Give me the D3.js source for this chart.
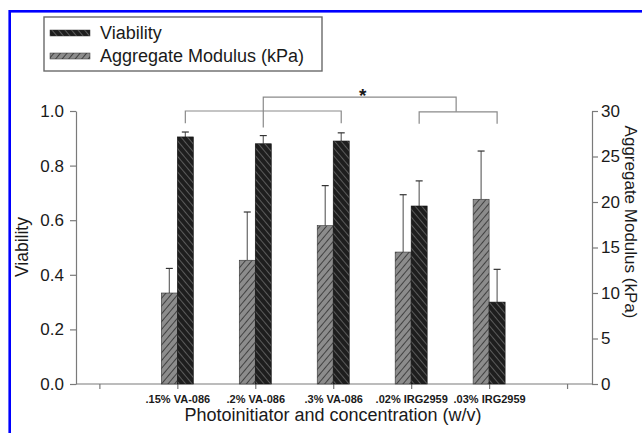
<!DOCTYPE html>
<html>
<head>
<meta charset="utf-8">
<script src="https://cdn.jsdelivr.net/npm/d3@7/dist/d3.min.js"></script>
<style>
  body { margin: 0; background: #fff; }
  text { font-family: "Liberation Sans", Arial, sans-serif; fill: #1a1a1a; }
</style>
</head>
<body>
<div class="canvas"></div>
<script>
const categories = [".15% VA-086", ".2% VA-086", ".3% VA-086", ".02% IRG2959", ".03% IRG2959"];
const viability = [0.905, 0.88, 0.89, 0.652, 0.30];
const viabilityErr = [0.018, 0.03, 0.03, 0.092, 0.12];
const modulus = [10.0, 13.6, 17.4, 14.5, 20.3];
const modulusErr = [2.7, 5.3, 4.4, 6.3, 5.3];
const leftTicks = [0, 0.2, 0.4, 0.6, 0.8, 1.0];
const rightTicks = [0, 5, 10, 15, 20, 25, 30];

const dims = { width: 642, height: 433 };
const plot = { left: 76, right: 592, top: 111, bottom: 384 };
const barW = 16;

const svg = d3
  .select(".canvas")
  .append("svg")
  .attr("width", dims.width)
  .attr("height", dims.height);

// hatch patterns
const defs = svg.append("defs");
const hatch = (id, bg, fg, dir) => {
  const p = defs
    .append("pattern")
    .attr("id", id)
    .attr("patternUnits", "userSpaceOnUse")
    .attr("width", 5)
    .attr("height", 5)
    .attr("patternTransform", `rotate(${dir})`);
  p.append("rect").attr("width", 5).attr("height", 5).attr("fill", bg);
  p.append("line").attr("x1", 0).attr("y1", 0).attr("x2", 0).attr("y2", 5)
    .attr("stroke", fg).attr("stroke-width", 1.6);
};
hatch("hatchGray", "#8c8c8c", "#2e2e2e", 40);
hatch("hatchDark", "#1e1e1e", "#6a6a6a", -40);

// blue frame
svg.append("rect")
  .attr("x", 9.7).attr("y", 11.3)
  .attr("width", 700).attr("height", 440)
  .attr("fill", "none").attr("stroke", "#0000ff").attr("stroke-width", 2.6);

// scales
const x = d3.scaleLinear().domain([-1.3, 5.32]).range([plot.left, plot.right]);
const yL = d3.scaleLinear().domain([0, 1]).range([plot.bottom, plot.top]);
const yR = d3.scaleLinear().domain([0, 30]).range([plot.bottom, plot.top]);

// axes
const styleAxis = (g, size) => {
  g.selectAll("path, line").attr("stroke", "#7a7a7a").attr("stroke-width", 1.2);
  g.selectAll("text").attr("font-size", size).attr("fill", "#1a1a1a");
};

svg.append("g")
  .attr("transform", `translate(${plot.left},0)`)
  .call(d3.axisLeft(yL).tickValues(leftTicks).tickFormat(d3.format(".1f")).tickSize(6).tickPadding(6).tickSizeOuter(0))
  .call((g) => styleAxis(g, 17));

svg.append("g")
  .attr("transform", `translate(${plot.right},0)`)
  .call(d3.axisRight(yR).tickValues(rightTicks).tickSize(6).tickPadding(3).tickSizeOuter(0))
  .call((g) => styleAxis(g, 17));

const xAxis = svg.append("g")
  .attr("transform", `translate(0,${plot.bottom})`)
  .call(d3.axisBottom(x).tickValues(d3.range(-1, 6)).tickFormat((i) => categories[i] || "").tickSize(5).tickPadding(6).tickSizeOuter(0))
  .call((g) => styleAxis(g, 11));
xAxis.selectAll("text").attr("font-weight", "bold");
xAxis.select(".domain").attr("d", `M${plot.left},0H${plot.right}`);

// axis titles
svg.append("text")
  .attr("x", 333).attr("y", 421)
  .attr("text-anchor", "middle").attr("font-size", 18)
  .text("Photoinitiator and concentration (w/v)");

svg.append("text")
  .attr("transform", "translate(28,247) rotate(-90)")
  .attr("text-anchor", "middle").attr("font-size", 17.5)
  .text("Viability");

svg.append("text")
  .attr("transform", "translate(625,222) rotate(90)")
  .attr("text-anchor", "middle").attr("font-size", 17)
  .text("Aggregate Modulus (kPa)");

// bars
const graph = svg.append("g");
const rows = categories.map((c, i) => ({ i, v: viability[i], ve: viabilityErr[i], m: modulus[i], me: modulusErr[i] }));

// error bars (drawn behind bars)
const err = graph.append("g").attr("stroke", "#666").attr("stroke-width", 1.2);
rows.forEach((d) => {
  const mx = x(d.i) - barW / 2;
  const vx = x(d.i) + barW / 2;
  err.append("line").attr("x1", mx).attr("x2", mx).attr("y1", yR(d.m)).attr("y2", yR(d.m + d.me));
  err.append("line").attr("x1", mx - 3.5).attr("x2", mx + 3.5).attr("y1", yR(d.m + d.me)).attr("y2", yR(d.m + d.me)).attr("stroke", "#333");
  err.append("line").attr("x1", vx).attr("x2", vx).attr("y1", yL(d.v)).attr("y2", yL(d.v + d.ve));
  err.append("line").attr("x1", vx - 3.5).attr("x2", vx + 3.5).attr("y1", yL(d.v + d.ve)).attr("y2", yL(d.v + d.ve)).attr("stroke", "#333");
});

graph.selectAll("rect.mod")
  .data(rows)
  .enter()
  .append("rect")
  .attr("class", "mod")
  .attr("x", (d) => x(d.i) - barW)
  .attr("width", barW)
  .attr("y", (d) => yR(d.m))
  .attr("height", (d) => yR(0) - yR(d.m))
  .attr("fill", "url(#hatchGray)")
  .attr("stroke", "#333")
  .attr("stroke-width", 0.6);

graph.selectAll("rect.via")
  .data(rows)
  .enter()
  .append("rect")
  .attr("class", "via")
  .attr("x", (d) => x(d.i))
  .attr("width", barW)
  .attr("y", (d) => yL(d.v))
  .attr("height", (d) => yL(0) - yL(d.v))
  .attr("fill", "url(#hatchDark)")
  .attr("stroke", "#111")
  .attr("stroke-width", 0.6);

// significance brackets (levels in viability units)
const cx = (i) => x(i) + barW / 2;
const br = svg.append("g").attr("fill", "none").attr("stroke", "#8a8a8a").attr("stroke-width", 1.2);
const line = d3.line();
br.append("path").attr("d", line([[cx(0), yL(0.955)], [cx(0), yL(1.0)], [cx(2), yL(1.0)], [cx(2), yL(0.955)]]));
br.append("path").attr("d", line([[cx(3), yL(0.953)], [cx(3), yL(0.997)], [cx(4), yL(0.997)], [cx(4), yL(0.953)]]));
const rightMid = (cx(3) + cx(4)) / 2 - 2;
br.append("path").attr("d", line([[cx(1), yL(0.94)], [cx(1), yL(1.051)], [rightMid, yL(1.051)], [rightMid, yL(0.997)]]));
svg.append("text")
  .attr("x", (cx(1) + rightMid) / 2 + 3).attr("y", 102)
  .attr("text-anchor", "middle").attr("font-size", 19).attr("font-weight", "bold")
  .text("*");

// legend
const legend = svg.append("g");
legend.append("rect")
  .attr("x", 44).attr("y", 17).attr("width", 278).attr("height", 54)
  .attr("fill", "#fff").attr("stroke", "#6a6a6a").attr("stroke-width", 1.4);
const legendItems = [
  { name: "Viability", fill: "url(#hatchDark)" },
  { name: "Aggregate Modulus (kPa)", fill: "url(#hatchGray)" },
];
legendItems.forEach((d, i) => {
  legend.append("rect")
    .attr("x", 50).attr("y", 30 + i * 23).attr("width", 40).attr("height", 6)
    .attr("fill", d.fill).attr("stroke", "#333").attr("stroke-width", 0.5);
  legend.append("text")
    .attr("x", 100).attr("y", 38.5 + i * 23.5)
    .attr("font-size", 18)
    .text(d.name);
});
</script>
</body>
</html>
